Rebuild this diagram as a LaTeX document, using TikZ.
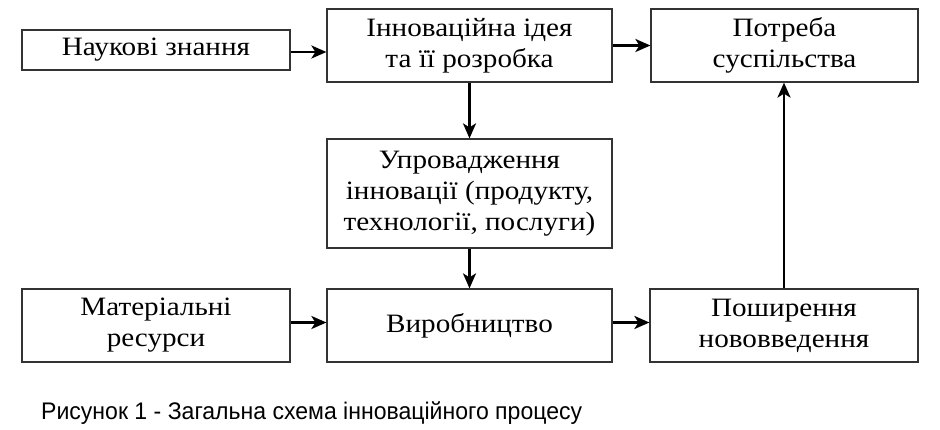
\documentclass[tikz,border=0pt]{standalone}
\usepackage{fontspec}
\setmainfont{Liberation Serif}
\newfontfamily\boxfont[FakeStretch=1.10]{Liberation Serif}
\newfontfamily\capfont[FakeStretch=0.96]{Liberation Sans}
\usetikzlibrary{arrows.meta}
\begin{document}
\begin{tikzpicture}[x=1pt,y=-1pt,
  box/.style={draw=black!80, line width=1.2pt, inner sep=0pt, align=center,
    font=\boxfont\fontsize{26.5}{31}\selectfont},
  arr/.style={line width=2.6pt, -{Stealth[length=15pt,width=13pt,inset=4pt]}}]
\useasboundingbox (0,0) rectangle (940,430);
\node[box, minimum width=268pt, minimum height=40pt] (nauk) at (156,50) {Наукові знання};
\node[box, minimum width=285pt, minimum height=73pt] (idea) at (469.5,45.5) {Інноваційна ідея\\та її розробка};
\node[box, minimum width=267pt, minimum height=73pt] (potr) at (784.5,45.5) {Потреба\\суспільства};
\node[box, minimum width=285pt, minimum height=109pt] (upr) at (469.5,193.5) {Упровадження\\інновації (продукту,\\технології, послуги)};
\node[box, minimum width=268pt, minimum height=73pt] (mat) at (156,325.5) {Матеріальні\\ресурси};
\node[box, minimum width=285pt, minimum height=73pt] (vyr) at (469.5,325.5) {Виробництво};
\node[box, minimum width=268pt, minimum height=73pt] (posh) at (784,325.5) {Поширення\\нововведення};
\draw[arr] ([yshift=-2pt]nauk.east) -- ([yshift=-2pt]idea.west |- nauk.east);
\draw[arr] (idea.east) -- (potr.west);
\draw[arr] (idea.south) -- (upr.north);
\draw[arr] (upr.south) -- (vyr.north);
\draw[arr] ([yshift=3pt]mat.east) -- ([yshift=3pt]vyr.west);
\draw[arr] ([yshift=3pt]vyr.east) -- ([yshift=3pt]posh.west);
\draw[arr] (posh.north) -- (posh.north |- potr.south);
\node[anchor=base west, inner sep=0pt, font=\capfont\fontsize{24}{28}\selectfont] (cap) at (41,419) {Рисунок 1 - Загальна схема інноваційного процесу};
\end{tikzpicture}
\end{document}
